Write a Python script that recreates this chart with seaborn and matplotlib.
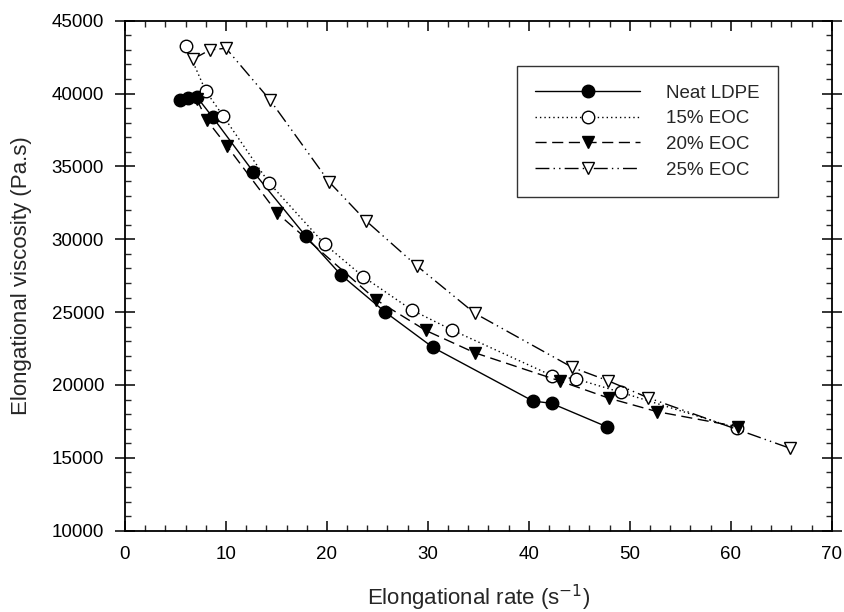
import numpy as np
import pandas as pd
import seaborn as sns
import matplotlib
matplotlib.use("Agg")
import matplotlib.pyplot as plt
from matplotlib.ticker import MultipleLocator

# ---- data ----
neat_x = [5.45, 6.27, 7.1, 8.7, 12.7, 17.9, 21.4, 25.8, 30.5, 40.4, 42.25, 47.7]
neat_y = [39560, 39670, 39780, 38360, 34640, 30220, 27550, 24990, 22580, 18900, 18740, 17140]

eoc15_x = [6.04, 8.0, 9.7, 14.26, 19.8, 23.6, 28.4, 32.4, 42.3, 44.7, 49.1, 60.6]
eoc15_y = [43260, 40170, 38480, 33880, 29650, 27430, 25150, 23770, 20640, 20410, 19500, 17030]

eoc20_x = [7.1, 8.1, 10.1, 15.1, 24.9, 29.8, 34.65, 43.1, 47.95, 52.7, 60.7]
eoc20_y = [39620, 38180, 36400, 31780, 25830, 23740, 22210, 20270, 19090, 18170, 17140]

eoc25_x = [6.7, 8.4, 10.0, 14.36, 20.2, 23.9, 28.9, 34.65, 44.3, 47.85, 51.8, 65.9]
eoc25_y = [42350, 42990, 43110, 39560, 33950, 31250, 28180, 24920, 21210, 20290, 19130, 15650]

labels = ["Neat LDPE", "15% EOC", "20% EOC", "25% EOC"]
x_ticks = [0, 10, 20, 30, 40, 50, 60, 70]
y_ticks = [10000, 15000, 20000, 25000, 30000, 35000, 40000, 45000]

sns.set_style("ticks")
plt.rcParams["font.family"] = ["Liberation Sans", "DejaVu Sans"]

fig = plt.figure(figsize=(8.45, 6.12), dpi=100)
ax = fig.add_axes([125 / 845, 1 - 530.7 / 612, (831.7 - 125) / 845, (530.7 - 20.7) / 612])

series = [
    (neat_x, neat_y, "o", "black", "-"),
    (eoc15_x, eoc15_y, "o", "white", (0, (1, 2.2))),
    (eoc20_x, eoc20_y, "v", "black", (0, (8, 4))),
    (eoc25_x, eoc25_y, "v", "white", (0, (10, 3, 1, 3, 1, 3))),
]

for (xs, ys, mk, fc, ls), lab in zip(series, labels):
    df = pd.DataFrame({"x": xs, "y": ys})
    sns.lineplot(data=df, x="x", y="y", ax=ax, sort=False, color="black",
                 linestyle=ls, linewidth=1.0, marker=mk, markersize=9,
                 markerfacecolor=fc, markeredgecolor="black", markeredgewidth=1.0,
                 label=lab, legend=False)

ax.set_xlim(0, 70)
ax.set_ylim(10000, 45000)
ax.set_xticks(x_ticks)
ax.set_yticks(y_ticks)
ax.xaxis.set_minor_locator(MultipleLocator(2))
ax.yaxis.set_minor_locator(MultipleLocator(1000))

for s in ax.spines.values():
    s.set_linewidth(1.3)
    s.set_color("black")

ax.tick_params(axis="x", which="major", direction="in", length=7, width=1.1,
               top=True, bottom=True, labelsize=13.5, pad=11, colors="black")
ax.tick_params(axis="x", which="minor", direction="in", length=4, width=1.0,
               top=True, bottom=True)
ax.tick_params(axis="y", which="major", direction="inout", length=14, width=1.1,
               left=True, right=True, labelsize=13.5, pad=8, colors="black")
ax.tick_params(axis="y", which="minor", direction="in", length=4, width=1.0,
               left=True, right=True)

ax.set_xlabel("Elongational rate (s$^{-1}$)", fontsize=16, labelpad=14)
ax.set_ylabel("Elongational viscosity (Pa.s)", fontsize=16, labelpad=14)

leg = ax.legend(loc="upper left", bbox_to_anchor=(516.7 / 845, 1 - 66 / 612),
                bbox_transform=fig.transFigure, fontsize=13.5, frameon=True,
                fancybox=False, edgecolor="black", handlelength=5.6,
                handletextpad=1.35, labelspacing=0.45, borderpad=1.0,
                borderaxespad=0)
leg.get_frame().set_linewidth(1.0)

fig.savefig("out.png", dpi=100)
